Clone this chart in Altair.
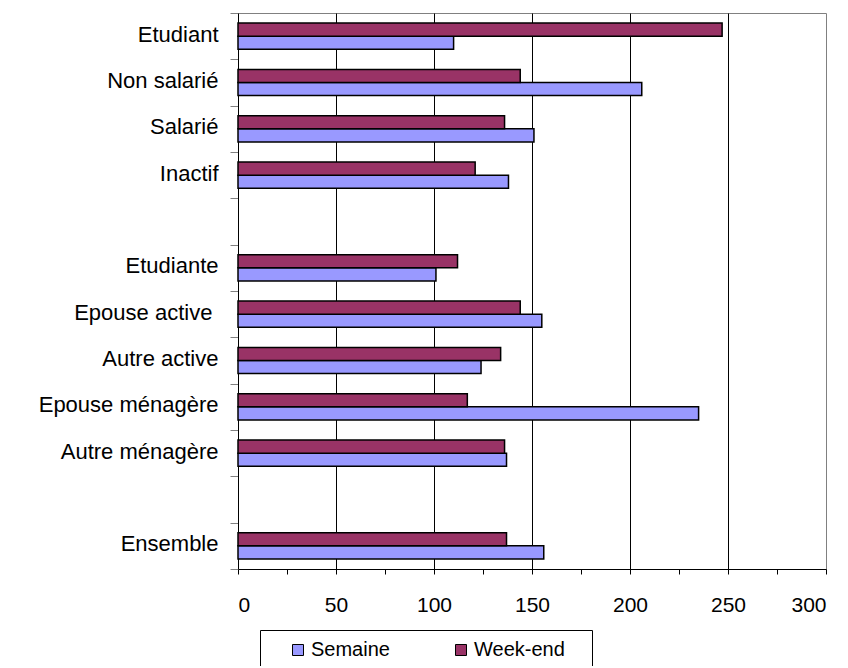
import altair as alt
import pandas as pd

rows = ["Etudiant", "Non salarié", "Salarié", "Inactif", " ",
        "Etudiante", "Epouse active\u00a0\u200b", "Autre active", "Epouse ménagère",
        "Autre ménagère", "  ", "Ensemble"]
cats = ["Etudiant", "Non salarié", "Salarié", "Inactif",
        "Etudiante", "Epouse active\u00a0\u200b", "Autre active", "Epouse ménagère",
        "Autre ménagère", "Ensemble"]
semaine = [110, 206, 151, 138, 101, 155, 124, 235, 137, 156]
weekend = [247, 144, 136, 121, 112, 144, 134, 117, 136, 137]
series = ["Semaine", "Week-end"]
colors = ["#9999FF", "#993366"]
x_ticks = list(range(0, 301, 25))

df = pd.DataFrame({
    "cat": cats + cats,
    "serie": [series[0]] * len(cats) + [series[1]] * len(cats),
    "val": semaine + weekend,
})

FONT = "Liberation Sans"

chart = alt.Chart(df).mark_bar(stroke="black", strokeWidth=1.5).encode(
    y=alt.Y(
        "cat:N",
        scale=alt.Scale(domain=rows, paddingInner=0, paddingOuter=0),
        axis=alt.Axis(
            title=None, tickBand="extent", tickSize=8, tickColor="#808080",
            labelPadding=12, labelFontSize=22, labelFont=FONT,
            labelColor="black", domainColor="black", labelLimit=300,
            labelOffset=-2,
        ),
    ),
    yOffset=alt.YOffset(
        "serie:N", sort=["Week-end", "Semaine"],
        scale=alt.Scale(paddingInner=0, paddingOuter=0.77),
    ),
    x=alt.X(
        "val:Q",
        scale=alt.Scale(domain=[0, 300], nice=False),
        axis=alt.Axis(
            title=None, values=x_ticks,
            labelExpr="datum.value % 50 == 0 ? datum.label : ''",
            grid=True, gridColor="black", gridWidth=1,
            gridOpacity={"condition": {"test": "datum.value % 50 == 0 && datum.value > 0 && datum.value < 300", "value": 1}, "value": 0},
            tickSize=5, tickColor="black", domainColor="black",
            labelFontSize=21, labelFont=FONT, labelColor="black",
            labelPadding=20,
        ),
    ),
    color=alt.Color(
        "serie:N",
        scale=alt.Scale(domain=series, range=colors),
        legend=alt.Legend(
            title=None, orient="none", legendX=22, legendY=617,
            direction="horizontal", strokeColor="black", fillColor="white",
            padding=10, symbolType="square", symbolSize=121,
            symbolStrokeColor="black", symbolStrokeWidth=1,
            labelFontSize=20, labelFont=FONT, labelColor="black",
            labelExpr="datum.label + '\u00a0\u00a0\u00a0\u200b'",
            labelOffset=3,
            columnPadding=26, symbolOffset=18,
        ),
    ),
).properties(
    width=588, height=556,
    padding={"left": 230, "top": 5, "right": 14, "bottom": 97},
    autosize=alt.AutoSizeParams(type="none"),
).configure_view(stroke="#808080", strokeWidth=1)

chart.save("out.html", embed_options={"renderer": "svg", "actions": False})
